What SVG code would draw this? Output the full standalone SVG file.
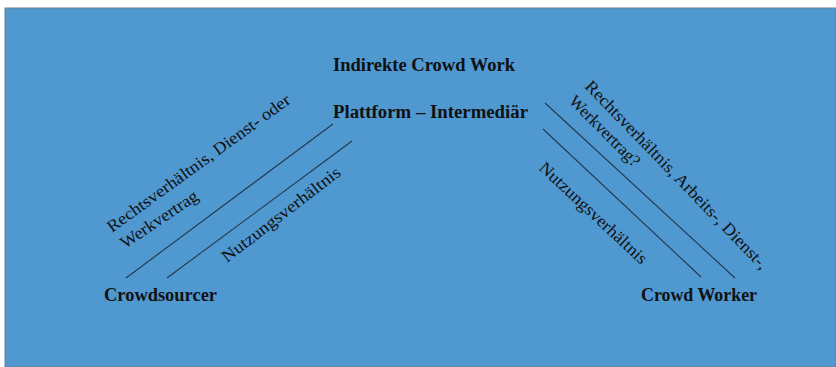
<svg xmlns="http://www.w3.org/2000/svg" width="836" height="367" viewBox="0 0 836 367">
<style>
text{font-family:"Liberation Serif","DejaVu Serif",serif;fill:#111;}
.b{font-weight:bold;font-size:18px;}
.r{font-size:17px;}
.ln{stroke:#24384c;stroke-width:1.1;fill:none;}
</style>
<rect x="0" y="0" width="836" height="367" fill="#ffffff"/>
<rect x="5" y="8" width="831" height="359" fill="#4F98D0" stroke="#6b7f92" stroke-width="1"/>
<g id="title"><text class="b" x="333" y="71" textLength="182" lengthAdjust="spacingAndGlyphs">Indirekte Crowd Work</text></g>
<g id="plattform"><text class="b" x="333" y="118" textLength="195" lengthAdjust="spacingAndGlyphs">Plattform – Intermediär</text></g>
<g id="crowdsourcer"><text class="b" x="104" y="301" textLength="113" lengthAdjust="spacingAndGlyphs">Crowdsourcer</text></g>
<g id="crowdworker"><text class="b" x="641" y="301" textLength="116" lengthAdjust="spacingAndGlyphs">Crowd Worker</text></g>
<g id="connectors">
<line class="ln" x1="126" y1="278" x2="333" y2="124"/>
<line class="ln" x1="167" y1="278" x2="352" y2="141"/>
<line class="ln" x1="545" y1="103" x2="735" y2="278"/>
<line class="ln" x1="543" y1="129" x2="701" y2="277"/>
</g>
<g id="labels">
<text class="r" transform="translate(112,233) rotate(-36)" textLength="222" lengthAdjust="spacingAndGlyphs">Rechtsverhältnis, Dienst- oder</text>
<text class="r" transform="translate(125,249) rotate(-34)" textLength="90" lengthAdjust="spacingAndGlyphs">Werkvertrag</text>
<text class="r" transform="translate(227,263) rotate(-37.6)" textLength="145" lengthAdjust="spacingAndGlyphs">Nutzungsverhältnis</text>
<text class="r" transform="translate(584,87) rotate(46)" textLength="255" lengthAdjust="spacingAndGlyphs">Rechtsverhältnis, Arbeits-, Dienst-,</text>
<text class="r" transform="translate(568,102) rotate(45)" textLength="93" lengthAdjust="spacingAndGlyphs">Werkvertrag?</text>
<text class="r" transform="translate(538,169) rotate(43)" textLength="141" lengthAdjust="spacingAndGlyphs">Nutzungsverhältnis</text>
</g>
</svg>
